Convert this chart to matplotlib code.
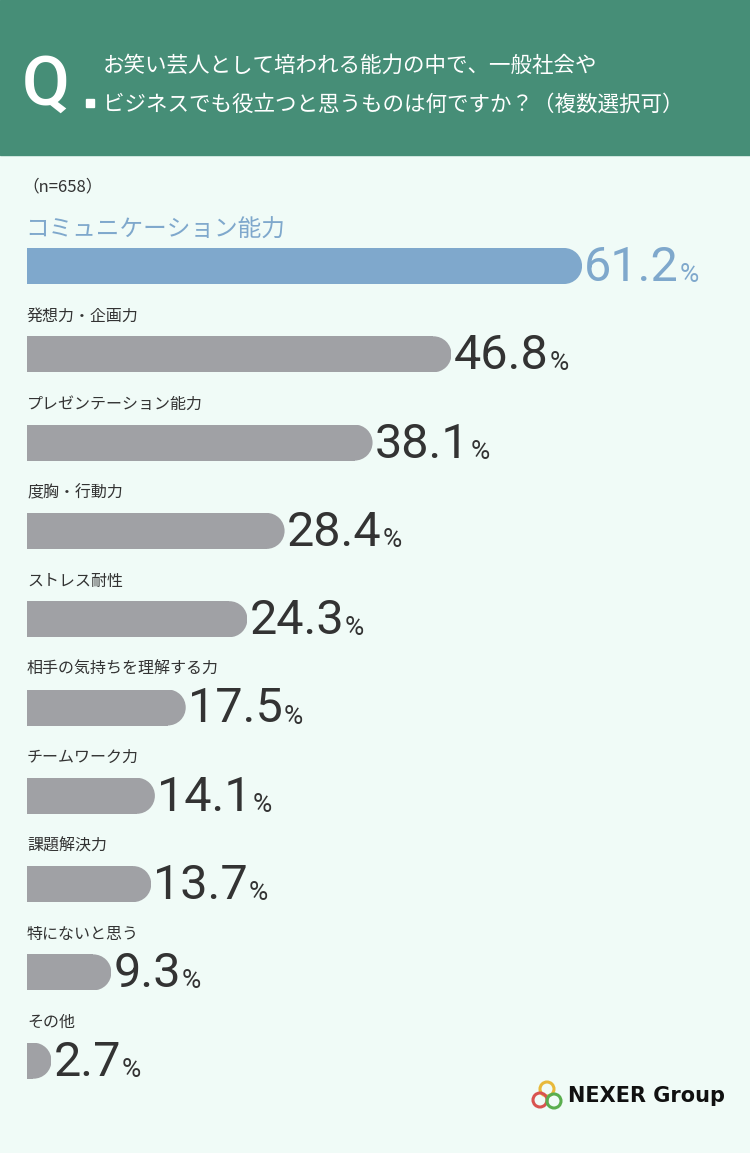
import matplotlib
matplotlib.use("Agg")
import matplotlib.pyplot as plt
from matplotlib.patches import Rectangle, Circle

plt.rcParams['font.family'] = ['Noto Sans CJK JP', 'DejaVu Sans']

labels = ["コミュニケーション能力", "発想力・企画力", "プレゼンテーション能力", "度胸・行動力",
          "ストレス耐性", "相手の気持ちを理解する力", "チームワーク力", "課題解決力",
          "特にないと思う", "その他"]
values = [61.2, 46.8, 38.1, 28.4, 24.3, 17.5, 14.1, 13.7, 9.3, 2.7]

W, H = 750, 1153
BG = "#F0FBF7"
GREEN = "#468E77"
BLUE = "#7FA8CC"
GREY = "#A0A1A5"
DARK = "#333333"

fig = plt.figure(figsize=(W / 100, H / 100), dpi=100, facecolor=BG)
ax = fig.add_axes([0, 0, 1, 1])
ax.set_xlim(0, W)
ax.set_ylim(H, 0)
ax.set_aspect("equal")
ax.axis("off")

# header
ax.add_patch(Rectangle((0, 0), W, 155, color=GREEN))
ax.text(22, 86, "Q", color="white", fontsize=50, fontweight="medium", va="center", family="Roboto")
ax.add_patch(Rectangle((86, 99), 8, 8, color="white"))
ax.text(103, 66, "お笑い芸人として培われる能力の中で、一般社会や", color="white", fontsize=15.5, va="center")
ax.text(103, 105, "ビジネスでも役立つと思うものは何ですか？（複数選択可）", color="white", fontsize=15.5, va="center")

ax.text(22, 187, "（n=658）", color=DARK, fontsize=12, va="center")

x0 = 27
scale = 9.07
bar_h = 36
top0 = 248
step = 88.3
for i, (lab, v) in enumerate(zip(labels, values)):
    top = top0 + i * step
    col = BLUE if i == 0 else GREY
    r = bar_h / 2
    end = x0 + max(v * scale, r)
    clip = Rectangle((x0, top), end - x0, bar_h, transform=ax.transData)
    ax.add_patch(Rectangle((x0, top), max(end - r - x0, 0), bar_h, color=col, lw=0))
    c = Circle((end - r, top + r), r, color=col, lw=0)
    ax.add_patch(c)
    c.set_clip_path(clip)
    if i == 0:
        ax.text(x0 - 2, top - 18, lab, color=BLUE, fontsize=17, va="center")
        tcol = BLUE
    else:
        ax.text(x0, top - 20, lab, color=DARK, fontsize=11.5, va="center")
        tcol = DARK
    t = ax.text(end + 2, top + r + 2, f"{v:.1f}", color=tcol, fontsize=35, va="center",
                fontweight="normal", family="Roboto")
    fig.canvas.draw()
    xe = ax.transData.inverted().transform((t.get_window_extent().x1, 0))[0]
    ax.text(xe + 1, top + r + 9, "%", color=tcol, fontsize=19, va="center", family="Roboto")

# logo
for (cx, cy, c) in [(547, 1089, "#E8B93A"), (540, 1100, "#D9534F"), (554, 1101, "#5AAE4E")]:
    ax.add_patch(Circle((cx, cy), 7, fill=False, ec=c, lw=2.2))
ax.text(568, 1096, "NEXER Group", color="#111111", fontsize=15, fontweight="bold", va="center",
        family="DejaVu Sans")

fig.savefig("out.png", dpi=100, facecolor=BG)
